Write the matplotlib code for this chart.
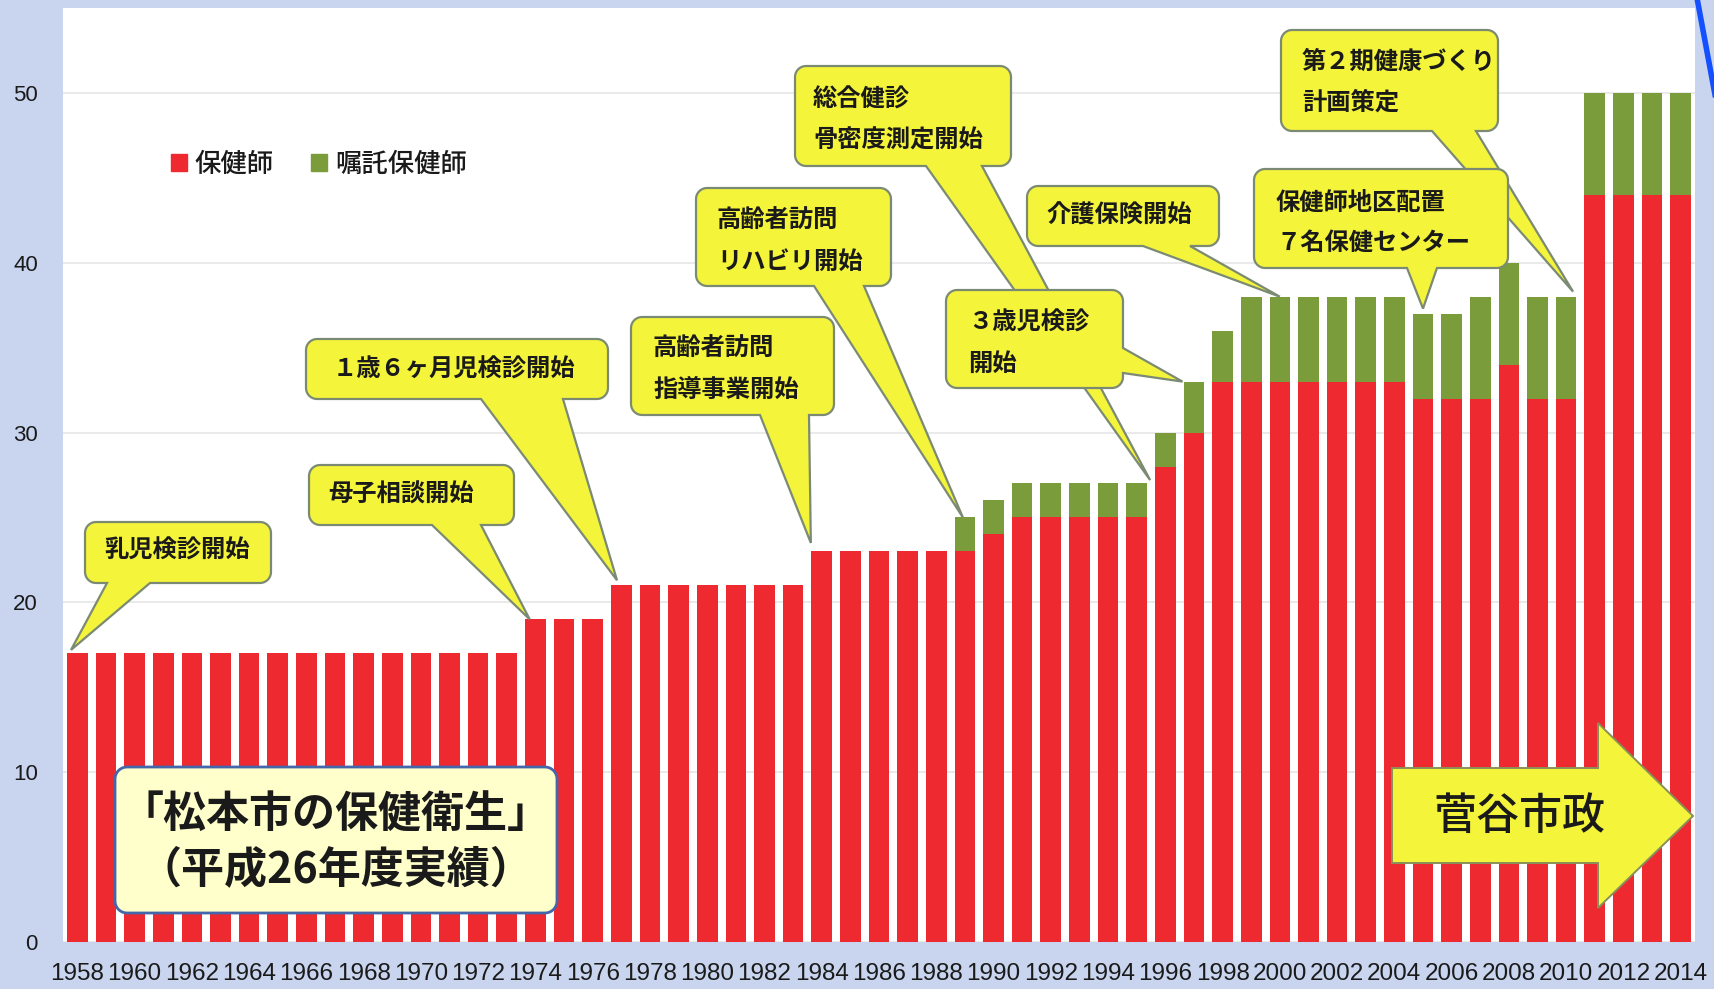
import numpy as np
import matplotlib
matplotlib.use('Agg')
import matplotlib.pyplot as plt
from matplotlib.patches import Polygon, Patch
from matplotlib.lines import Line2D

W, H = 1714, 989

years = [1958, 1959, 1960, 1961, 1962, 1963, 1964, 1965, 1966, 1967,
         1968, 1969, 1970, 1971, 1972, 1973, 1974, 1975, 1976, 1977,
         1978, 1979, 1980, 1981, 1982, 1983, 1984, 1985, 1986, 1987,
         1988, 1989, 1990, 1991, 1992, 1993, 1994, 1995, 1996, 1997,
         1998, 1999, 2000, 2001, 2002, 2003, 2004, 2005, 2006, 2007,
         2008, 2009, 2010, 2011, 2012, 2013, 2014]
# 保健師 (red)
hokenshi = [17, 17, 17, 17, 17, 17, 17, 17, 17, 17,
            17, 17, 17, 17, 17, 17, 19, 19, 19, 21,
            21, 21, 21, 21, 21, 21, 23, 23, 23, 23,
            23, 23, 24, 25, 25, 25, 25, 25, 28, 30,
            33, 33, 33, 33, 33, 33, 33, 32, 32, 32,
            34, 32, 32, 44, 44, 44, 44]
# 嘱託保健師 (green)
shokutaku = [0, 0, 0, 0, 0, 0, 0, 0, 0, 0,
             0, 0, 0, 0, 0, 0, 0, 0, 0, 0,
             0, 0, 0, 0, 0, 0, 0, 0, 0, 0,
             0, 2, 2, 2, 2, 2, 2, 2, 2, 3,
             3, 5, 5, 5, 5, 5, 5, 5, 5, 6,
             6, 6, 6, 6, 6, 6, 6]
yticks = [0, 10, 20, 30, 40, 50]

event_labels = [
    ['乳児検診開始'],
    ['母子相談開始'],
    ['１歳６ヶ月児検診開始'],
    ['高齢者訪問', '指導事業開始'],
    ['高齢者訪問', 'リハビリ開始'],
    ['総合健診', '骨密度測定開始'],
    ['３歳児検診', '開始'],
    ['介護保険開始'],
    ['保健師地区配置', '７名保健センター'],
    ['第２期健康づくり', '計画策定'],
]
event_years = [1958, 1974, 1977, 1984, 1989, 1995, 1997, 2000, 2005, 2010]

RED = '#ee2a30'
GREEN = '#7a9c3a'
YELLOW = '#f4f43a'
EDGE = '#7b8a72'
TXT = '#1a1a1a'
CJK = ['Noto Sans CJK JP', 'DejaVu Sans']
NUM = ['Liberation Sans', 'DejaVu Sans']

fig = plt.figure(figsize=(W / 100, H / 100), dpi=100, facecolor='#c9d5ef')
ax = fig.add_axes([63 / W, 1 - 942 / H, (1695 - 63) / W, (942 - 8) / H])
ax.set_facecolor('white')

x = np.arange(len(years))
tot = np.array(hokenshi) + np.array(shokutaku)
ax.bar(x, hokenshi, width=0.72, color=RED, zorder=2)
ax.bar(x, shokutaku, bottom=hokenshi, width=0.72, color=GREEN, zorder=2)

ax.set_xlim(-0.5, len(years) - 0.5)
ax.set_ylim(0, 55)
ax.set_yticks(yticks)
ax.set_xticks(x[::2])
ax.set_xticklabels([str(y) for y in years[::2]])
ax.grid(axis='y', color='#e6e6e6', lw=1.2, zorder=0)
ax.set_axisbelow(True)
for s in ax.spines.values():
    s.set_visible(False)
ax.tick_params(length=0)
ax.tick_params(axis='x', pad=15, labelsize=17.5)
ax.tick_params(axis='y', pad=18, labelsize=16)
for lab in ax.get_xticklabels() + ax.get_yticklabels():
    lab.set_family(NUM)
    lab.set_color(TXT)

leg = ax.legend(handles=[Patch(color=RED, label='保健師'),
                         Patch(color=GREEN, label='嘱託保健師')],
                loc='center left', bbox_to_anchor=(158 / W, 1 - 164 / H),
                bbox_transform=fig.transFigure, ncol=2, frameon=False,
                handlelength=0.6, handleheight=0.6, handletextpad=0.3,
                columnspacing=1.4, borderpad=0,
                prop={'family': CJK, 'size': 19, 'weight': 'medium'})
for t in leg.get_texts():
    t.set_color(TXT)


def to_fig(px, py):
    return px / W, 1 - py / H


def outline(box, r, side=None, base=None, tip=None):
    # rounded rectangle in image pixels, optionally with a pointer on one side
    x0, y0, x1, y1 = box
    pts = []

    def arc(cx, cy, a0, a1):
        for t in np.linspace(a0, a1, 9):
            pts.append((cx + r * np.cos(t), cy + r * np.sin(t)))

    arc(x1 - r, y0 + r, -np.pi / 2, 0)
    if side == 'right':
        pts.extend([(x1, base[0]), tip, (x1, base[1])])
    arc(x1 - r, y1 - r, 0, np.pi / 2)
    if side == 'bottom':
        pts.extend([(base[1], y1), tip, (base[0], y1)])
    arc(x0 + r, y1 - r, np.pi / 2, np.pi)
    arc(x0 + r, y0 + r, np.pi, 3 * np.pi / 2)
    return np.array([to_fig(px, py) for px, py in pts])


def bar_tip(year, dx, dy):
    i = years.index(year)
    dx_, dy_ = ax.transData.transform((x[i] + dx, tot[i] + dy))
    return dx_, H - dy_


# box (x0, y0, x1, y1), pointer side, pointer base, tip offset, text left, line centres
layout = [
    ((85, 522, 271, 583), 'bottom', (107, 150), (-0.22, 0.2), 104, [551]),
    ((309, 465, 514, 525), 'bottom', (432, 481), (-0.2, 0.0), 328, [495]),
    ((306, 339, 608, 399), 'bottom', (481, 563), (-0.15, 0.3), 333, [370]),
    ((631, 317, 834, 415), 'bottom', (760, 809), (-0.38, 0.5), 653, [349, 390]),
    ((696, 188, 891, 286), 'bottom', (814, 864), (-0.07, 0.0), 717, [221, 262]),
    ((795, 66, 1011, 166), 'bottom', (926, 982), (0.47, 0.2), 813, [100, 141]),
    ((946, 290, 1123, 388), 'right', (348, 373), (-0.4, 0.0), 968, [323, 364]),
    ((1027, 186, 1219, 246), 'bottom', (1143, 1190), (0.0, 0.0), 1046, [216]),
    ((1254, 169, 1508, 268), 'bottom', (1407, 1437), (0.0, 0.3), 1276, [203, 243]),
    ((1281, 30, 1498, 131), 'bottom', (1432, 1476), (0.24, 0.3), 1302, [62, 103]),
]
z_order = [3, 3, 3, 3, 3, 3, 4, 3, 4, 3]

for lines, year, lay, z in zip(event_labels, event_years, layout, z_order):
    box, side, base, (dx, dy), tx, tys = lay
    tip = bar_tip(year, dx, dy)
    poly = Polygon(outline(box, 11, side, base, tip), closed=True,
                   transform=fig.transFigure, fc=YELLOW, ec=EDGE, lw=1.6, zorder=z)
    fig.add_artist(poly)
    for s, ty in zip(lines, tys):
        fx, fy = to_fig(tx, ty)
        fig.text(fx, fy, s, ha='left', va='center', fontsize=17.5,
                 fontweight='bold', family=CJK, color=TXT, zorder=z + 0.5)

# 出典の囲み
src = Polygon(outline((115, 767, 557, 913), 12), closed=True, transform=fig.transFigure,
              fc='#ffffcc', ec='#4466aa', lw=2, zorder=3)
fig.add_artist(src)
fig.text(*to_fig(336, 814), '「松本市の保健衛生」', ha='center', va='center',
         fontsize=31, fontweight='bold', family=CJK, color=TXT, zorder=3.5)
fig.text(*to_fig(336, 869), '（平成26年度実績）', ha='center', va='center',
         fontsize=31, fontweight='bold', family=CJK, color=TXT, zorder=3.5)

# 菅谷市政の矢印
arrow_px = [(1392, 768), (1598, 768), (1598, 723), (1693, 816),
            (1598, 908), (1598, 863), (1392, 863)]
arrow = Polygon(np.array([to_fig(px, py) for px, py in arrow_px]), closed=True,
                transform=fig.transFigure, fc=YELLOW, ec='#88905a', lw=1.4, zorder=3)
fig.add_artist(arrow)
fig.text(*to_fig(1519, 816), '菅谷市政', ha='center', va='center', fontsize=31,
         fontweight='medium', family=CJK, color=TXT, zorder=3.5)

# slide decoration at the top right
fig.add_artist(Line2D([1697 / W, 1716 / W], [1 + 2 / H, 1 - 100 / H],
                      transform=fig.transFigure, color='#1450ff', lw=4, zorder=5))

fig.savefig('out.png', dpi=100, facecolor=fig.get_facecolor())
